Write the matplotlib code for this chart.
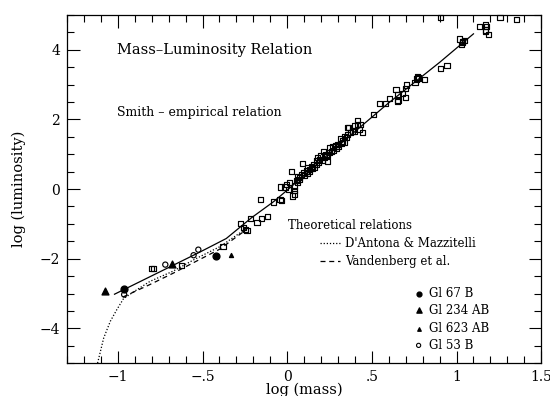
import numpy as np
import matplotlib.pyplot as plt
from matplotlib.ticker import MultipleLocator

plt.rcParams['font.family'] = ['DejaVu Serif']

# Smith empirical relation
smith_x = [-1.02, -0.52, -0.36, -0.30, -0.21, -0.08, 0.0, 0.30, 0.60, 0.90, 1.10]
smith_y = [-3.02, -1.82, -1.42, -1.18, -0.82, -0.36, -0.03, 1.24, 2.48, 3.64, 4.46]

# D'Antona & Mazzitelli tracks
dm_x = [-1.12, -1.084, -1.045, -1.006, -0.967, -0.91, -0.81, -0.675, -0.54, -0.40, -0.24]
dm_y = [-5.0, -4.28, -3.80, -3.46, -3.15, -2.96, -2.65, -2.36, -2.00, -1.66, -1.13]

# Vandenberg et al. tracks
vb_x = [-0.97, -0.81, -0.675, -0.54, -0.40, -0.24]
vb_y = [-3.10, -2.74, -2.42, -2.08, -1.73, -1.16]

# field binaries (open squares)
sq_x = [-0.80, -0.79, -0.626, -0.379, -0.276, -0.257, -0.247, -0.238, -0.218, -0.179,
        -0.15, -0.115, -0.16, -0.082, -0.043, -0.033, -0.041, -0.013, -0.004, 0.006,
        0.012, 0.025, 0.029, 0.041, 0.041, 0.045, 0.054, 0.06, 0.064, 0.07,
        0.074, 0.084, 0.089, 0.099, 0.10, 0.113, 0.12, 0.123, 0.13, 0.133,
        0.142, 0.15, 0.158, 0.16, 0.171, 0.175, 0.181, 0.185, 0.191, 0.20,
        0.205, 0.216, 0.22, 0.229, 0.235, 0.24, 0.249, 0.25, 0.26, 0.268,
        0.275, 0.288, 0.29, 0.298, 0.305, 0.313, 0.318, 0.327, 0.335, 0.34,
        0.35, 0.356, 0.356, 0.362, 0.375, 0.385, 0.395, 0.399, 0.414, 0.414,
        0.424, 0.434, 0.444,
        0.508, 0.545, 0.58, 0.603, 0.642, 0.65, 0.654, 0.654, 0.68, 0.70,
        0.70, 0.706, 0.755, 0.765, 0.77, 0.775, 0.813, 0.907, 0.944, 1.017,
        1.027, 1.033, 1.037, 1.047, 1.134, 1.17, 1.177, 1.173, 1.17, 1.19,
        0.907, 1.257, 1.354]
sq_y = [-2.29, -2.27, -2.19, -1.66, -0.99, -1.11, -1.16, -1.18, -0.85, -0.97,
        -0.85, -0.78, -0.30, -0.37, -0.30, -0.33, 0.06, 0.06, 0.14, -0.01,
        0.20, 0.50, -0.20, -0.04, -0.14, 0.09, 0.25, 0.20, 0.37, 0.28,
        0.33, 0.42, 0.73, 0.47, 0.38, 0.52, 0.45, 0.61, 0.50, 0.57,
        0.66, 0.60, 0.71, 0.62, 0.81, 0.70, 0.90, 0.76, 0.85, 0.95,
        0.82, 1.07, 0.92, 1.00, 0.96, 0.79, 1.19, 1.05, 1.08, 1.21,
        1.12, 1.24, 1.16, 1.29, 1.22, 1.46, 1.30, 1.38, 1.35, 1.50,
        1.48, 1.57, 1.76, 1.78, 1.62, 1.67, 1.81, 1.67, 1.86, 1.98,
        1.72, 1.86, 1.62,
        2.15, 2.47, 2.47, 2.61, 2.87, 2.51, 2.55, 2.72, 2.75, 2.63,
        2.89, 2.99, 3.06, 3.16, 3.22, 3.19, 3.14, 3.46, 3.56, 4.31,
        4.16, 4.21, 4.24, 4.26, 4.67, 4.72, 4.66, 4.57, 4.52, 4.45,
        4.93, 4.93, 4.88]

# named systems
gl67_x, gl67_y = [-0.963, -0.422], [-2.86, -1.93]
gl234_x, gl234_y = [-1.074, -0.68], [-2.92, -2.14]
gl623_x, gl623_y = [-0.331], [-1.88]
gl53_x, gl53_y = [-0.963, -0.72, -0.553, -0.525], [-3.03, -2.17, -1.90, -1.74]

legend_labels = ['Gl 67 B', 'Gl 234 AB', 'Gl 623 AB', 'Gl 53 B']
legend_y = [-3.01, -3.48, -4.01, -4.49]

fig = plt.figure(figsize=(5.5, 3.96), dpi=100)
ax = fig.add_axes([0.122, 0.083, 0.862, 0.879])

ax.plot(smith_x, smith_y, color='black', lw=0.9)
ax.plot(dm_x, dm_y, color='black', lw=0.9, ls=(0, (1, 1.5)))
ax.plot(vb_x, vb_y, color='black', lw=0.9, ls=(0, (4, 3)))

ax.scatter(sq_x, sq_y, marker='s', s=14, facecolors='none', edgecolors='black',
           linewidths=0.85, clip_on=False, zorder=3)
ax.scatter(gl67_x, gl67_y, marker='o', s=24, color='black', zorder=4)
ax.scatter(gl234_x, gl234_y, marker='^', s=24, color='black', zorder=4)
ax.scatter(gl623_x, gl623_y, marker='^', s=8, color='black', zorder=4)
ax.scatter(gl53_x, gl53_y, marker='o', s=14, facecolors='none', edgecolors='black',
           linewidths=0.85, zorder=4)

# hand-placed key
ax.text(-1.007, 3.99, 'Mass\u2013Luminosity Relation', fontsize=10.5, va='center')
ax.text(-1.007, 2.19, 'Smith \u2013 empirical relation', fontsize=9, va='center')
ax.text(0.006, -1.04, 'Theoretical relations', fontsize=8.5, va='center')
ax.plot([0.193, 0.31], [-1.55, -1.55], color='black', lw=0.9, ls=(0, (1, 1.5)))
ax.text(0.344, -1.55, "D'Antona & Mazzitelli", fontsize=8.5, va='center')
ax.plot([0.193, 0.31], [-2.07, -2.07], color='black', lw=0.9, ls=(0, (4, 3)))
ax.text(0.344, -2.07, 'Vandenberg et al.', fontsize=8.5, va='center')

ax.scatter([0.776], [legend_y[0]], marker='o', s=12, color='black')
ax.scatter([0.776], [legend_y[1]], marker='^', s=14, color='black')
ax.scatter([0.776], [legend_y[2]], marker='^', s=6, color='black')
ax.scatter([0.776], [legend_y[3]], marker='o', s=9, facecolors='none',
           edgecolors='black', linewidths=0.8)
for lab, ly in zip(legend_labels, legend_y):
    ax.text(0.835, ly, lab, fontsize=8.5, va='center')

ax.set_xlim(-1.3, 1.5)
ax.set_ylim(-5, 5)
ax.xaxis.set_major_locator(MultipleLocator(0.5))
ax.xaxis.set_minor_locator(MultipleLocator(0.1))
ax.yaxis.set_major_locator(MultipleLocator(2))
ax.yaxis.set_minor_locator(MultipleLocator(0.5))
ax.set_xticks([-1, -0.5, 0, 0.5, 1, 1.5])
ax.set_xticklabels(['\u22121', '\u2212.5', '0', '.5', '1', '1.5'])
ax.tick_params(which='both', direction='in', top=True, right=True, labelsize=10, width=0.8)
ax.tick_params(which='major', length=9, pad=5)
ax.tick_params(which='minor', length=5)
for sp in ax.spines.values():
    sp.set_linewidth(0.9)

ax.set_xlabel('log (mass)', fontsize=10.5, labelpad=-1)
ax.set_ylabel('log (luminosity)', fontsize=10.5, labelpad=10)

fig.savefig('out.png', dpi=100)
